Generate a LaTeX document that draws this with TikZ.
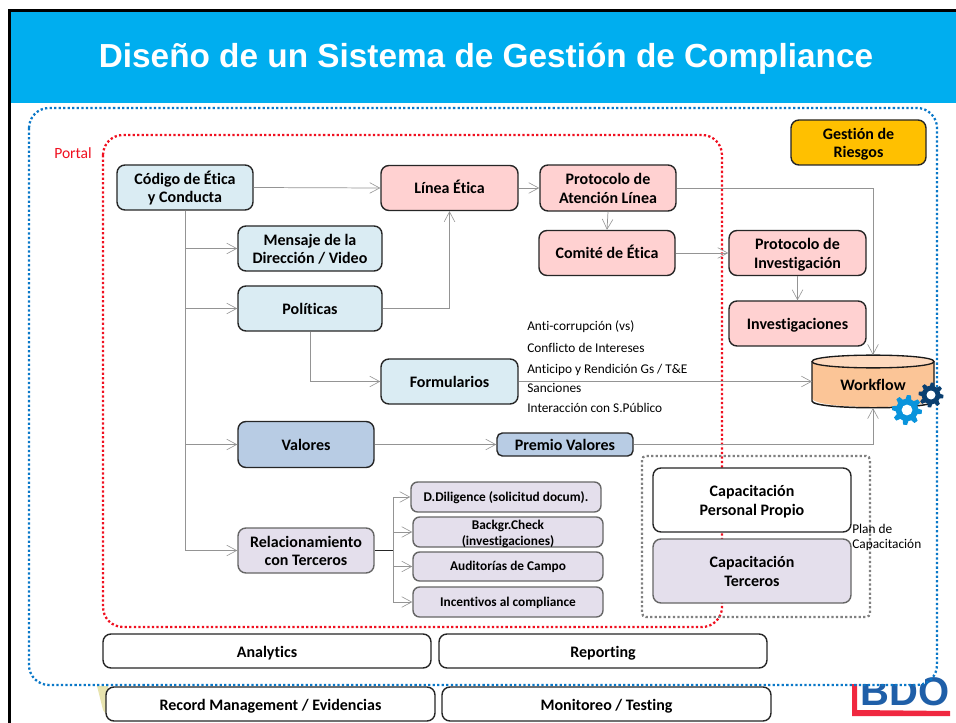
\documentclass[tikz,border=0pt]{standalone}
\usepackage{fontspec}
\setmainfont[Ligatures=NoCommon]{Carlito}
\newfontfamily\titlefont{Liberation Sans}
\usetikzlibrary{arrows.meta}
\definecolor{cyanbar}{HTML}{00AEEF}
\definecolor{lblue}{HTML}{DAECF3}
\definecolor{pinkb}{HTML}{FFD1D1}
\definecolor{steel}{HTML}{B8CCE4}
\definecolor{lav}{HTML}{E4DFEC}
\definecolor{amber}{HTML}{FFC000}
\definecolor{wfbody}{HTML}{FBC597}
\definecolor{wftop}{HTML}{FDD9BE}
\definecolor{dotblue}{HTML}{0A78C8}
\definecolor{dotred}{HTML}{F01020}
\definecolor{gearl}{HTML}{0A94DC}
\definecolor{geard}{HTML}{0A3F70}
\definecolor{bdoblue}{HTML}{1F5FA8}
\definecolor{bdored}{HTML}{F02840}
\newcommand{\tstrut}{\rule{0pt}{12pt}}
\tikzset{
  x=0.75pt,y=-0.75pt,
  wh/.style 2 args={minimum width=#1*0.75pt,minimum height=#2*0.75pt},
  box/.style={draw=black!85,line width=1.05pt,rounded corners=6pt,inner sep=0pt,align=center,
    font=\fontsize{12}{14.2}\selectfont\bfseries,
    execute at begin node={\rule{0pt}{12pt}},execute at end node={\rule[-3pt]{0pt}{3pt}}},
  subbox/.style={draw=black!60,line width=1.05pt,rounded corners=5pt,inner sep=0pt,align=center,fill=lav,
    font=\fontsize{10}{11.6}\selectfont\bfseries,
    execute at begin node={\rule{0pt}{9.5pt}},execute at end node={\rule[-3pt]{0pt}{3pt}}},
  subtext/.style={inner sep=0pt,align=center,font=\fontsize{10}{11.6}\selectfont\bfseries},
  link/.style={draw=black!42,line width=0.55pt,-{Straight Barb[length=7.5pt,width=8pt,line width=0.45pt]}},
  plain/.style={draw=black!42,line width=0.55pt},
  dots/.style={line width=1.7pt,dash pattern=on 1.7pt off 1.7pt,rounded corners=15pt},
  note/.style={inner sep=0pt,anchor=west,font=\fontsize{10}{12}\selectfont},
}
\begin{document}
\begin{tikzpicture}
\useasboundingbox (0,0) rectangle (956,723);
\fill[white] (0,0) rectangle (956,723);
% frame and title band
\fill[cyanbar] (10,11) rectangle (956,103);
\draw[black,line width=2.25pt] (9,723) -- (9,11) -- (956,11);
\node[inner sep=0pt,text=white,font=\titlefont\fontsize{25}{30}\selectfont\bfseries] (title) at (486,59) {Diseño de un Sistema de Gestión de Compliance};
% logo and picture remnant
\fill[black!30!yellow!35!white] (97,686) -- (108,686) -- (112,722) -- (103,710) -- cycle;
\begin{scope}
\clip (856,684) -- (925,684) -- (925,672) -- (956,672) -- (956,723) -- (856,723) -- cycle;
\node[inner sep=0pt,anchor=base west,text=bdoblue,font=\titlefont\fontsize{30}{32}\selectfont\bfseries] (bdo) at (860,705) {BDO};
\end{scope}
\fill[bdored] (852,684) -- (857,684) -- (857,710) -- (950,711) -- (950,716) -- (852,716) -- cycle;
% dotted regions
\draw[dots,draw=dotblue] (29,108) rectangle (937,685);
\draw[dots,draw=dotred] (103,135) rectangle (722,627);
\draw[dots,draw=black!50,rounded corners=3pt] (642,456) rectangle (870,617);
% boxes
\node[box,fill=lblue,wh={136}{45}] (cod) at (185,187.5) {\tstrut Código de Ética\\y Conducta};
\node[box,fill=pinkb,wh={137}{45}] (lin) at (449.5,188) {Línea Ética};
\node[box,fill=pinkb,wh={136}{46}] (pat) at (608,188) {\tstrut Protocolo de\\Atención Línea};
\node[box,fill=pinkb,wh={136}{45}] (com) at (607,253) {Comité de Ética};
\node[box,fill=lblue,wh={144}{45}] (men) at (310,248.5) {\tstrut Mensaje de la\\Dirección / Video};
\node[box,fill=lblue,wh={144}{45}] (pol) at (310,308.5) {Políticas};
\node[box,fill=lblue,wh={137}{45}] (for) at (449.5,381.5) {Formularios};
\node[box,fill=pinkb,wh={137}{45}] (pin) at (797.5,253) {\tstrut Protocolo de\\Investigación};
\node[box,fill=pinkb,wh={137}{45}] (inv) at (797.5,323.5) {Investigaciones};
\node[box,fill=steel,wh={136}{46}] (val) at (306,444.5) {Valores};
\node[box,fill=steel,wh={136}{23},rounded corners=4pt] (pre) at (565,444.5) {Premio Valores};
\node[box,fill=lav,draw=black!60,wh={136}{45}] (rel) at (306,550.5) {\tstrut Relacionamiento\\con Terceros};
\node[subbox,wh={190}{30}] (dil) at (506,497) {D.Diligence (solicitud docum).};
\node[subbox,wh={190}{30}] (bac) at (508,532) {};
\node[subtext] (bactext) at (508,534) {Backgr.Check\\(investigaciones)};
\node[subbox,wh={190}{29}] (aud) at (508,566.5) {Auditorías de Campo};
\node[subbox,wh={190}{30}] (inc) at (508,602) {Incentivos al compliance};
\node[box,fill=white,wh={198}{64}] (cpp) at (752,500) {\tstrut Capacitación\\Personal Propio};
\node[box,fill=lav,draw=black!60,wh={198}{64}] (cte) at (752,571) {\tstrut Capacitación\\Terceros};
\node[box,fill=amber,wh={135}{45}] (ges) at (858.5,142.5) {\tstrut Gestión de\\Riesgos};
\node[box,fill=white,wh={328}{34}] (ana) at (267,651) {Analytics};
\node[box,fill=white,wh={328}{34}] (rep) at (603,651) {Reporting};
\node[box,fill=white,wh={329}{34}] (rec) at (270.5,704) {Record Management / Evidencias};
\node[box,fill=white,wh={329}{34}] (mon) at (606.5,704) {Monitoreo / Testing};
% workflow cylinder
\fill[wfbody] (812,362) -- (812,398) .. controls (812,410) and (934,410) .. (934,398) -- (934,362) -- cycle;
\fill[wftop,draw=black!90,line width=1pt] (812,361.5) .. controls (812,353) and (934,353) .. (934,361.5) .. controls (934,370) and (812,370) .. (812,361.5) -- cycle;
\draw[black!90,line width=1.1pt] (812,362) -- (812,401) .. controls (812,410) and (934,410) .. (934,401) -- (934,362);
\node[minimum width=91.5pt,minimum height=39.75pt,inner sep=0pt,font=\fontsize{12}{14}\selectfont\bfseries] (wf) at (873,385) {Workflow};
% gears
\foreach \cx/\cy/\r/\col in {931/395/12.5/geard,907/410/15/gearl}{
  \fill[\col,even odd rule]
    plot[smooth cycle,tension=0.08,samples at={0,...,47}] ({\cx+\r*(mod(\x,6)<3?1:0.74)*cos(\x*7.5)},{\cy+\r*(mod(\x,6)<3?1:0.74)*sin(\x*7.5)});
  \fill[white] (\cx,\cy) circle[radius=\r*0.36];
}
% connectors
\coordinate (wfn) at (873,355);
\coordinate (wfs) at (873,408);
\coordinate (wfw) at (812,381.5);
\draw[link] (cod.east) -- (lin.west);
\draw[link] (lin.east) -- (pat.west);
\draw[link] (pat.south) -- (com.north);
\draw[link] (pat.east) -| (wfn);
\draw[link] (com.east) -- (pin.west);
\draw[link] (pin.south) -- (inv.north);
\draw[link] (cod.south) |- (men.west);
\draw[link] (cod.south) |- (pol.west);
\draw[link] (cod.south) |- (val.west);
\draw[link] (cod.south) |- (rel.west);
\draw[link] (pol.east) -| (lin.south);
\draw[link] (pol.south) |- (for.west);
\draw[link] (for.east) -- (wfw);
\draw[link] (val.east) -- (pre.west);
\draw[link] (pre.east) -| (wfs);
\coordinate (tr) at (393,550.5);
\draw[plain,draw=black!85] (rel.east) -- (tr);
\draw[link] (tr) |- (dil.west);
\draw[link] (tr) |- (bac.west);
\draw[link] (tr) |- (aud.west);
\draw[link] (tr) |- (inc.west);
% free text
\node[note,text=dotred,font=\fontsize{11.7}{13}\selectfont] (por) at (54,153) {Portal};
\node[note] (n1) at (527,327) {Anti-corrupción (vs)};
\node[note] (n2) at (527,348) {Conflicto de Intereses};
\node[note] (n3) at (527,370) {Anticipo y Rendición Gs / T\&E};
\node[note] (n4) at (527,388) {Sanciones};
\node[note] (n5) at (527,408) {Interacción con S.Público};
\node[note] (n6) at (852,529) {Plan de};
\node[note] (n7) at (852,545) {Capacitación};
\end{tikzpicture}
\end{document}
